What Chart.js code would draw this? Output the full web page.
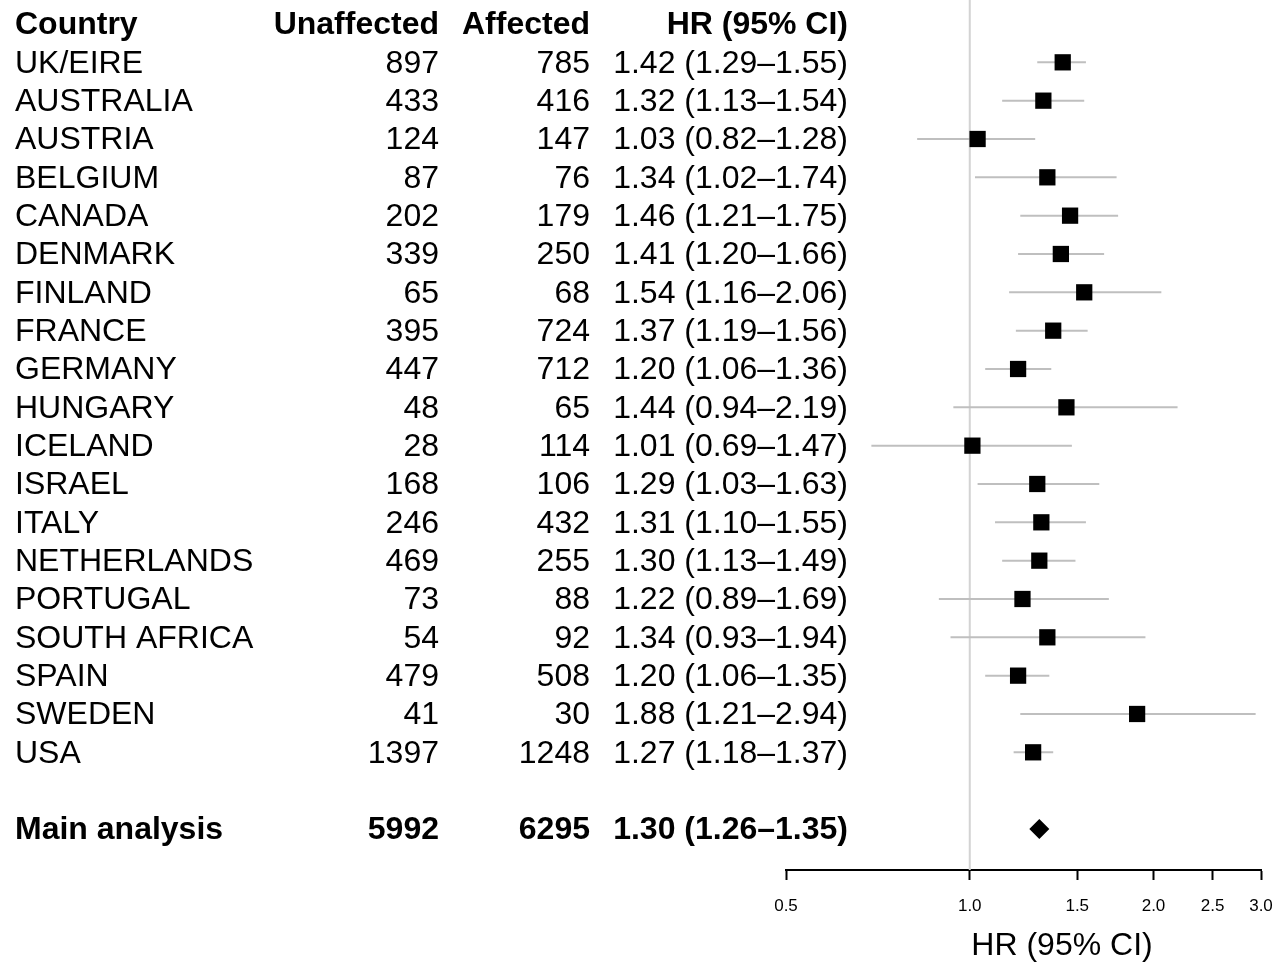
<!DOCTYPE html>
<html>
<head>
<meta charset="utf-8">
<script src="https://cdn.jsdelivr.net/npm/chart.js@4.4.0/dist/chart.umd.min.js"></script>
<style>
html, body { margin: 0; padding: 0; background: #fff; }
</style>
</head>
<body>
<canvas id="forest_chart" width="1280" height="965"></canvas>
<script>
const countries  = ['UK/EIRE', 'AUSTRALIA', 'AUSTRIA', 'BELGIUM', 'CANADA', 'DENMARK', 'FINLAND',
                    'FRANCE', 'GERMANY', 'HUNGARY', 'ICELAND', 'ISRAEL', 'ITALY', 'NETHERLANDS',
                    'PORTUGAL', 'SOUTH AFRICA', 'SPAIN', 'SWEDEN', 'USA'];
const unaffected = [897, 433, 124, 87, 202, 339, 65, 395, 447, 48, 28, 168, 246, 469, 73, 54, 479, 41, 1397];
const affected   = [785, 416, 147, 76, 179, 250, 68, 724, 712, 65, 114, 106, 432, 255, 88, 92, 508, 30, 1248];
const hr         = [1.42, 1.32, 1.03, 1.34, 1.46, 1.41, 1.54, 1.37, 1.20, 1.44, 1.01, 1.29, 1.31, 1.30, 1.22, 1.34, 1.20, 1.88, 1.27];
const lower      = [1.29, 1.13, 0.82, 1.02, 1.21, 1.20, 1.16, 1.19, 1.06, 0.94, 0.69, 1.03, 1.10, 1.13, 0.89, 0.93, 1.06, 1.21, 1.18];
const upper      = [1.55, 1.54, 1.28, 1.74, 1.75, 1.66, 2.06, 1.56, 1.36, 2.19, 1.47, 1.63, 1.55, 1.49, 1.69, 1.94, 1.35, 2.94, 1.37];

const mainLabel      = 'Main analysis';
const mainUnaffected = 5992;
const mainAffected   = 6295;
const mainHr         = 1.30;
const mainLower      = 1.26;
const mainUpper      = 1.35;

const headers = ['Country', 'Unaffected', 'Affected', 'HR (95% CI)'];
const xTitle  = 'HR (95% CI)';
const xTicks  = [0.5, 1.0, 1.5, 2.0, 2.5, 3.0];

const mainRow = countries.length + 2;
const yMin = -0.626;
const yMax = 22.07;
const font = '"Liberation Sans", Arial, Helvetica, sans-serif';

const fmt = v => v.toFixed(2);

const ciSets = countries.map((c, i) => ({
    showLine: true,
    data: [{ x: lower[i], y: i + 1 }, { x: upper[i], y: i + 1 }],
    borderColor: '#bfbfbf',
    borderWidth: 2,
    pointRadius: 0,
    order: 2
}));

// table columns + axis title drawn on the canvas, rows placed by the y scale
const textColumns = {
    id: 'textColumns',
    afterDraw(chart) {
        const ctx = chart.ctx;
        const y = chart.scales.y;
        const colX = [15, 439, 590, 848];
        const align = ['left', 'right', 'right', 'right'];
        const drawRow = (cells, row, bold) => {
            const py = y.getPixelForValue(row) + 1.5;
            ctx.font = (bold ? 'bold ' : '') + '32px ' + font;
            ctx.fillStyle = '#000';
            ctx.textBaseline = 'middle';
            cells.forEach((t, k) => {
                ctx.textAlign = align[k];
                ctx.fillText(t, colX[k], py);
            });
        };
        ctx.save();
        drawRow(headers, 0, true);
        countries.forEach((c, i) => {
            drawRow([c, String(unaffected[i]), String(affected[i]),
                fmt(hr[i]) + ' (' + fmt(lower[i]) + '\u2013' + fmt(upper[i]) + ')'], i + 1, false);
        });
        drawRow([mainLabel, String(mainUnaffected), String(mainAffected),
            fmt(mainHr) + ' (' + fmt(mainLower) + '\u2013' + fmt(mainUpper) + ')'], mainRow, true);

        ctx.font = '32px ' + font;
        ctx.textAlign = 'center';
        ctx.fillText(xTitle, 1062, 946);
        ctx.restore();
    }
};

new Chart(document.getElementById('forest_chart'), {
    type: 'scatter',
    data: {
        datasets: [
            {
                showLine: true,
                data: [{ x: 1, y: yMin }, { x: 1, y: yMax }],
                borderColor: '#d3d3d3',
                borderWidth: 2,
                pointRadius: 0,
                order: 3
            },
            ...ciSets,
            {
                data: countries.map((c, i) => ({ x: hr[i], y: i + 1 })),
                pointStyle: 'rect',
                pointRadius: 11.5,
                backgroundColor: '#000',
                borderWidth: 0,
                order: 1
            },
            {
                data: [{ x: mainHr, y: mainRow }],
                pointStyle: 'rectRot',
                pointRadius: 10,
                backgroundColor: '#000',
                borderWidth: 0,
                order: 1
            }
        ]
    },
    options: {
        responsive: false,
        animation: false,
        layout: { autoPadding: false, padding: { left: 786, right: 19, top: 0, bottom: 0 } },
        plugins: {
            legend: { display: false },
            tooltip: { enabled: false }
        },
        scales: {
            x: {
                type: 'logarithmic',
                min: 0.5,
                max: 3.0,
                afterBuildTicks: scale => { scale.ticks = xTicks.map(v => ({ value: v })); },
                afterFit: scale => {
                    scale.paddingLeft = 0;
                    scale.paddingRight = 0;
                    scale.height = 95;
                },
                border: { display: true, color: '#000', width: 2 },
                grid: {
                    drawOnChartArea: false,
                    drawTicks: true,
                    tickLength: 10,
                    tickColor: '#000',
                    tickWidth: 2
                },
                ticks: {
                    autoSkip: false,
                    maxRotation: 0,
                    padding: 16,
                    color: '#000',
                    font: { family: font, size: 17 },
                    callback: v => Number(v).toFixed(1)
                }
            },
            y: {
                type: 'linear',
                reverse: true,
                min: yMin,
                max: yMax,
                display: false
            }
        }
    },
    plugins: [textColumns]
});
</script>
</body>
</html>
